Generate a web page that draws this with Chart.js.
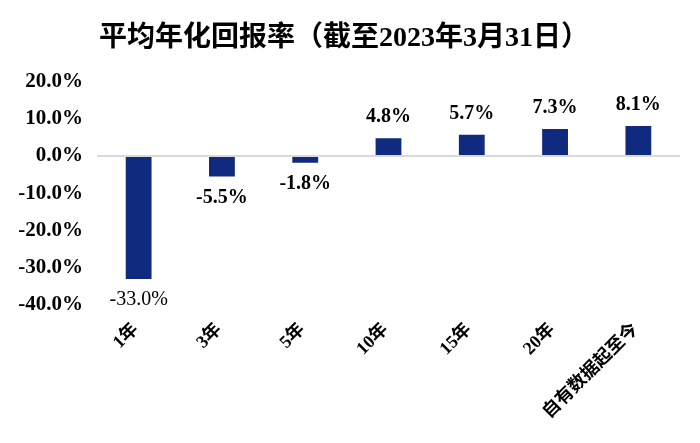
<!DOCTYPE html>
<html>
<head>
<meta charset="utf-8">
<script src="https://cdn.jsdelivr.net/npm/chart.js@4/dist/chart.umd.min.js"></script>
<style>
  html, body { margin: 0; padding: 0; background: #fff; }
  #wrap { width: 700px; height: 443px; }
</style>
</head>
<body>
<div id="wrap"><canvas id="rendimiento"></canvas></div>
<script>
const periodos = ['1年', '3年', '5年', '10年', '15年', '20年', '自有数据起至今'];
const rendimientos = [-33.0, -5.5, -1.8, 4.8, 5.7, 7.3, 8.1];
const ticksY = [-40, -30, -20, -10, 0, 10, 20];

const fuente = '"Liberation Serif", "Times New Roman", "Noto Sans CJK SC", serif';
const pesoEtiqueta = ['normal', 'bold', 'bold', 'bold', 'bold', 'bold', 'bold'];

// etiquetas de valor encima / debajo de cada barra
const etiquetas = {
  id: 'etiquetas',
  afterDatasetsDraw(chart) {
    const ctx = chart.ctx;
    const meta = chart.getDatasetMeta(0);
    ctx.save();
    ctx.fillStyle = '#000';
    ctx.textAlign = 'center';
    ctx.textBaseline = 'middle';
    meta.data.forEach((bar, i) => {
      const v = rendimientos[i];
      ctx.font = pesoEtiqueta[i] + ' 20px ' + fuente;
      const y = v >= 0 ? bar.y - 21 : bar.y + 21;
      ctx.fillText(v.toFixed(1) + '%', bar.x, y);
    });
    ctx.restore();
  }
};

const ctx = document.getElementById('rendimiento');
new Chart(ctx, {
  type: 'bar',
  data: {
    labels: periodos,
    datasets: [{
      label: '平均年化回报率',
      data: rendimientos,
      backgroundColor: '#0F2A7E',
      barPercentage: 0.62,
      categoryPercentage: 0.5
    }]
  },
  options: {
    responsive: true,
    maintainAspectRatio: false,
    animation: false,
    layout: { padding: { left: 8, right: 20, top: 0, bottom: 0 } },
    plugins: {
      legend: { display: false },
      tooltip: { enabled: false },
      title: {
        display: true,
        text: '平均年化回报率（截至2023年3月31日）',
        color: '#000',
        font: { family: fuente, size: 28, weight: 'bold' },
        padding: { top: 22, bottom: 26 }
      }
    },
    scales: {
      y: {
        min: ticksY[0],
        max: ticksY[ticksY.length - 1],
        afterBuildTicks: (scale) => {
          scale.ticks = ticksY.map(v => ({ value: v }));
        },
        afterFit: (scale) => { scale.width = 89; },
        border: { display: false },
        grid: {
          drawTicks: false,
          color: (c) => c.tick && c.tick.value === 0 ? '#d9d9d9' : 'rgba(0,0,0,0)',
          lineWidth: 2
        },
        ticks: {
          color: '#000',
          padding: 14,
          font: { family: fuente, size: 21, weight: 'bold' },
          callback: (v) => v.toFixed(1) + '%'
        }
      },
      x: {
        afterFit: (scale) => { scale.height = 138; },
        border: { display: false },
        grid: { display: false, drawTicks: false },
        ticks: {
          color: '#000',
          minRotation: 45,
          maxRotation: 45,
          padding: 14,
          labelOffset: -3,
          font: { family: fuente, size: 18, weight: 'bold' }
        }
      }
    }
  },
  plugins: [etiquetas]
});
</script>
</body>
</html>
